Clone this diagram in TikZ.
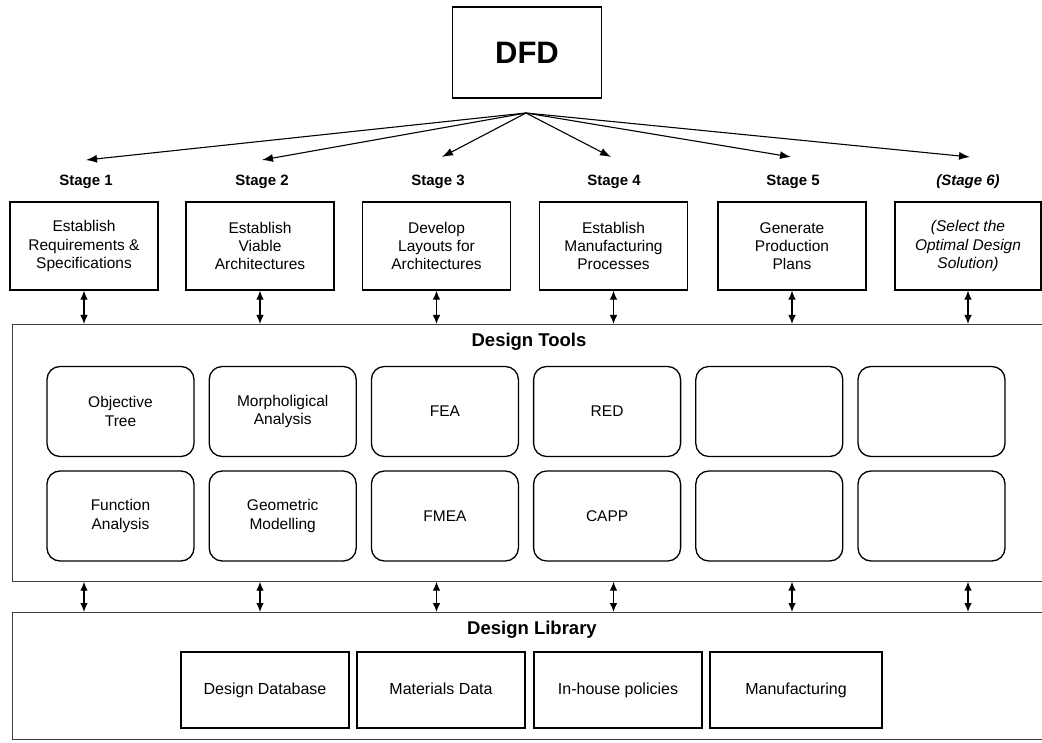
\documentclass[tikz,border=0pt]{standalone}
\usepackage{fontspec}
\setmainfont{Liberation Sans}
\usetikzlibrary{arrows.meta}

\tikzset{
  stagebox/.style={draw, line width=1.3pt, minimum width=148, minimum height=88,
    align=center, inner sep=2pt, font=\fontsize{15.5}{18.3}\selectfont},
  stagelabel/.style={font=\bfseries\fontsize{15}{17}\selectfont, inner sep=1pt},
  toolbox/.style={draw, line width=1.3pt, rounded corners=13, minimum width=147,
    minimum height=90, align=center, font=\fontsize{15.5}{18.3}\selectfont},
  libbox/.style={draw, line width=1.3pt, minimum width=168, minimum height=76,
    text height=11.5, text depth=3.5, align=center, font=\fontsize{16}{18}\selectfont},
  panel/.style={draw=black!75, line width=0.7pt, anchor=north west, inner sep=0pt},
  paneltitle/.style={font=\bfseries\fontsize{18.5}{21}\selectfont, inner sep=1pt},
  fan/.style={-{Latex[length=11,width=8]}, line width=1.1pt},
  link/.style={{Latex[length=9,width=7.5]}-{Latex[length=9,width=7.5]}, line width=1.1pt}
}

\begin{document}
\begin{tikzpicture}[x=1pt, y=-1pt]
\useasboundingbox (0,0) rectangle (1042,743);
\clip (0,0) rectangle (1042,743);

% top node and the six stages
\node[draw, line width=1.3pt, minimum width=149, minimum height=91,
      font=\bfseries\fontsize{31}{34}\selectfont] (dfd) at (527,52.5) {DFD};
\coordinate (hub) at (526,113);

\node[stagelabel] (l1) at (86,182) {Stage 1};
\node[stagelabel] (l2) at (262,182) {Stage 2};
\node[stagelabel] (l3) at (438,182) {Stage 3};
\node[stagelabel] (l4) at (614,182) {Stage 4};
\node[stagelabel] (l5) at (793,182) {Stage 5};
\node[stagelabel] (l6) at (968,182) {\itshape (Stage 6)};

\coordinate (t1) at (86,160);
\coordinate (t2) at (262,160);
\coordinate (t3) at (442,157);
\coordinate (t4) at (611,157);
\coordinate (t5) at (791,157);
\coordinate (t6) at (970,157);
\foreach \i in {1,...,6} \draw[fan] (hub) -- (t\i);

\node[stagebox] (s1) at (84,246) {Establish\\Requirements \&\\Specifications};
\node[stagebox] (s2) at (260,246) {Establish\\Viable\\Architectures};
\node[stagebox] (s3) at (436.5,246) {Develop\\Layouts for\\Architectures};
\node[stagebox] (s4) at (613.5,246) {Establish\\Manufacturing\\Processes};
\node[stagebox] (s5) at (792,246) {Generate\\Production\\Plans};
\node[stagebox, minimum width=146, font=\itshape\fontsize{15.5}{18.3}\selectfont]
  (s6) at (968,246) {(Select the\\Optimal Design\\Solution)};

% design tools panel
\node[panel, minimum width=1040, minimum height=257] (tools) at (12,324) {};
\node[paneltitle] (tt) at (529,342) {Design Tools};

\node[toolbox] (a1) at (120.5,411.5) {Objective\\Tree};
\node[toolbox] (a2) at (282.7,411.5) {Morpholigical\\Analysis};
\node[toolbox] (a3) at (444.9,411.5) {FEA};
\node[toolbox] (a4) at (607.1,411.5) {RED};
\node[toolbox] (a5) at (769.3,411.5) {};
\node[toolbox] (a6) at (931.5,411.5) {};
\node[toolbox] (b1) at (120.5,516) {Function\\Analysis};
\node[toolbox] (b2) at (282.7,516) {Geometric\\Modelling};
\node[toolbox] (b3) at (444.9,516) {FMEA};
\node[toolbox] (b4) at (607.1,516) {CAPP};
\node[toolbox] (b5) at (769.3,516) {};
\node[toolbox] (b6) at (931.5,516) {};

% design library panel
\node[panel, minimum width=1040, minimum height=127] (lib) at (12,612) {};
\node[paneltitle] (lt) at (532,630) {Design Library};

\node[libbox] (d1) at (265,690) {Design Database};
\node[libbox] (d2) at (441,690) {Materials Data};
\node[libbox] (d3) at (618,690) {In-house policies};
\node[libbox, minimum width=172] (d4) at (796,690) {Manufacturing};

% two-way links between stages, tools and library
\foreach \i in {1,...,6} {
  \draw[link] (s\i.south) -- (s\i.south |- tools.north);
  \draw[link] (s\i.south |- tools.south) -- (s\i.south |- lib.north);
}
\end{tikzpicture}
\end{document}
